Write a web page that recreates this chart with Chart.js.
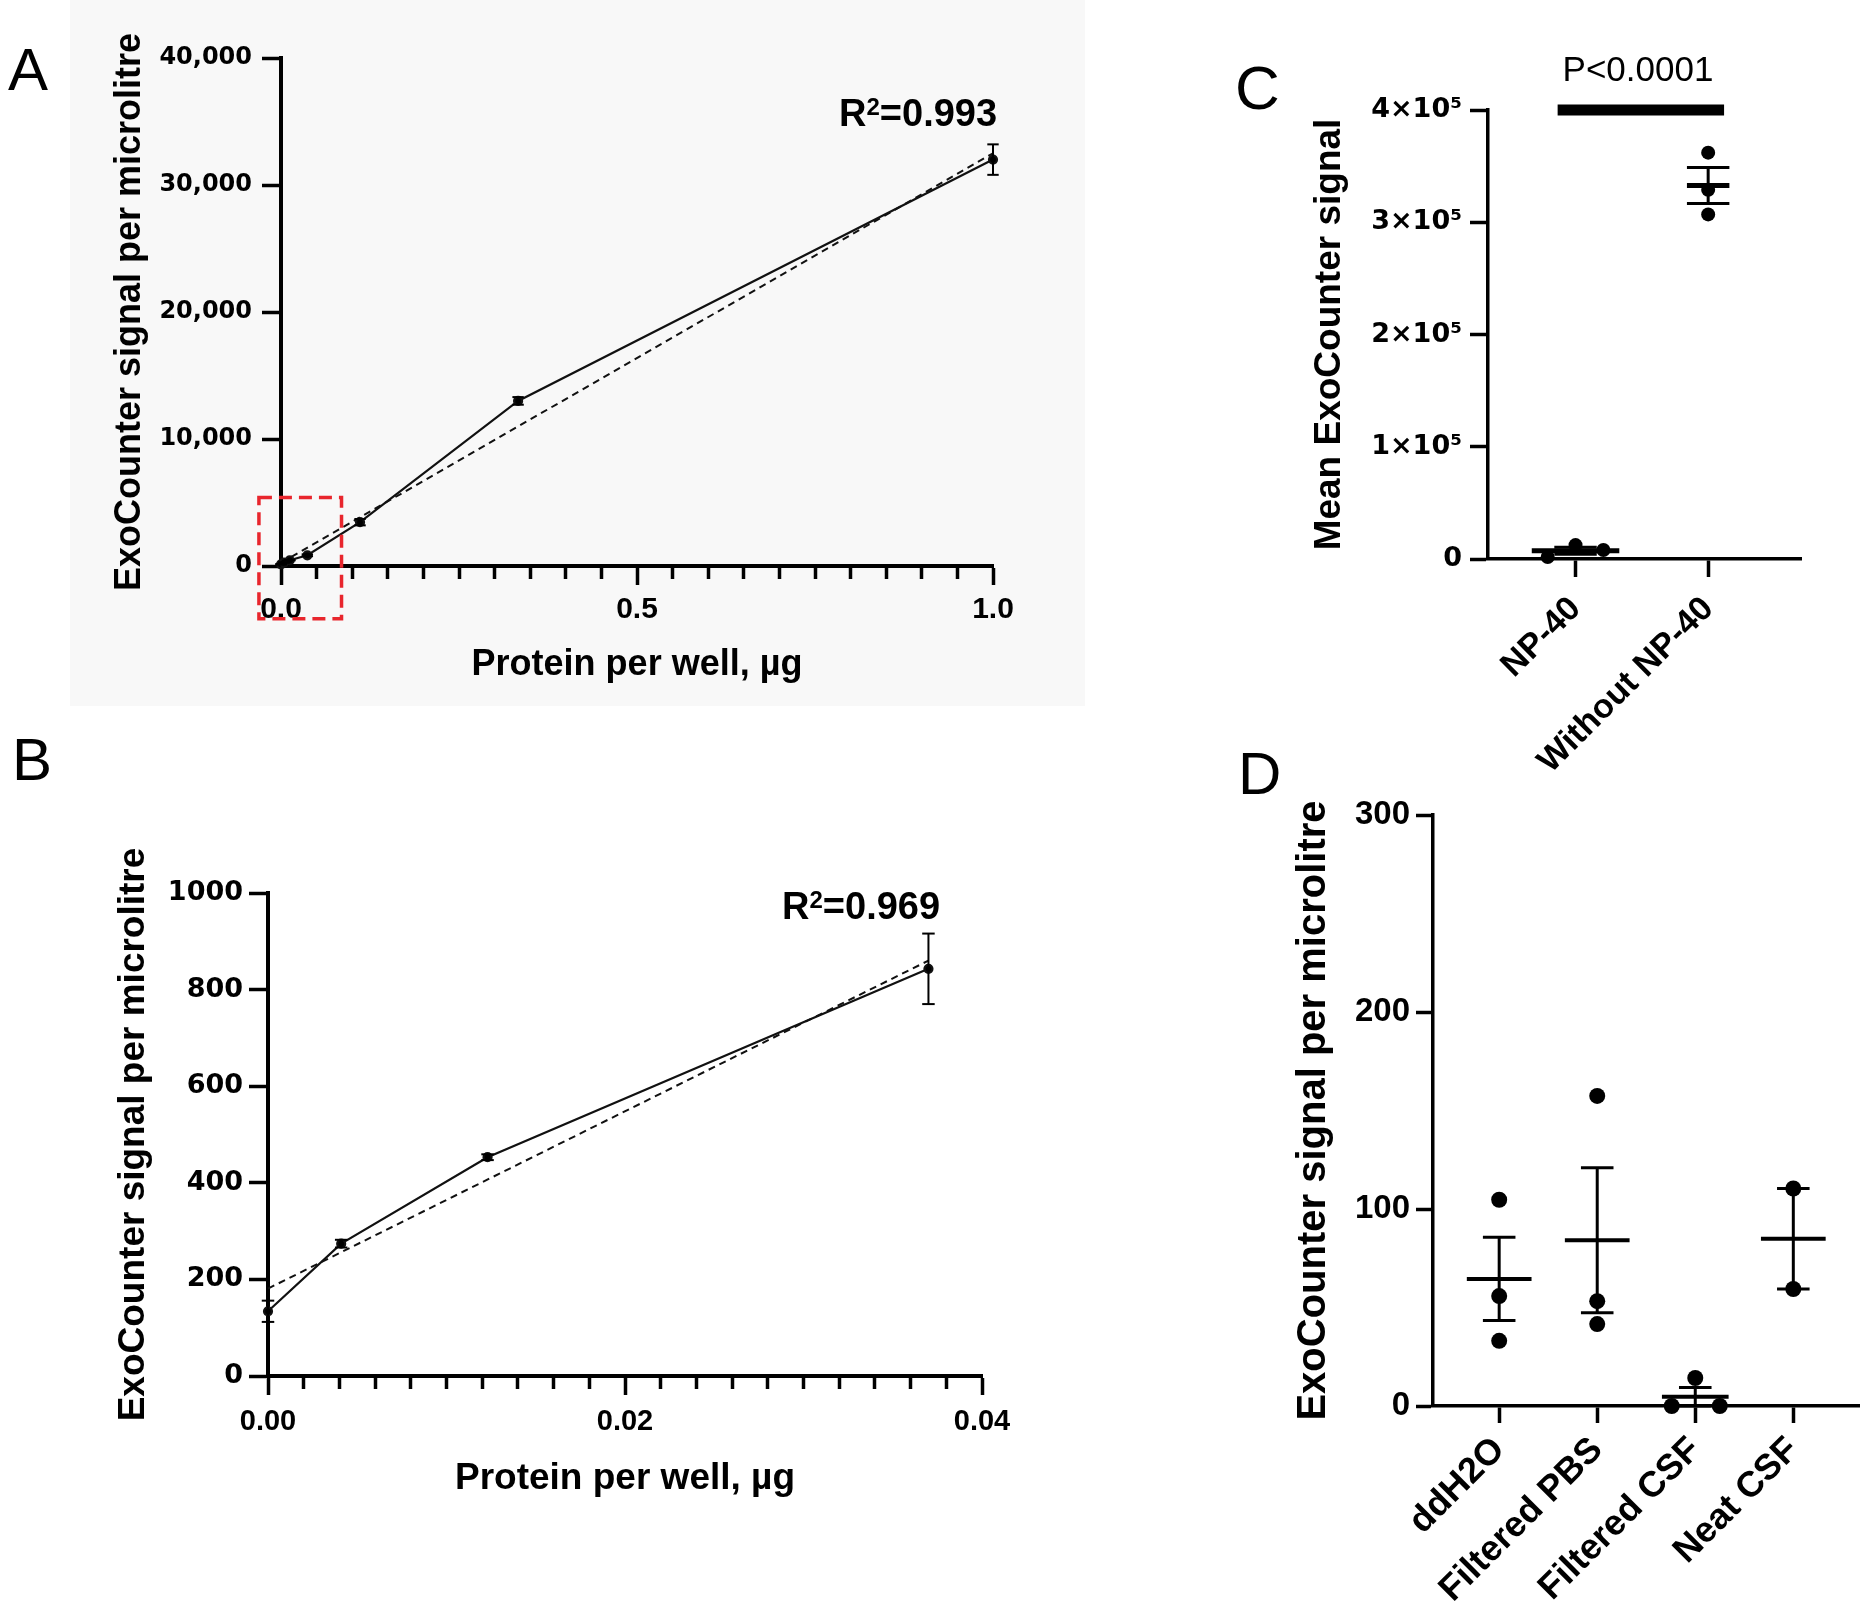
<!DOCTYPE html>
<html>
<head>
<meta charset="utf-8">
<script src="https://cdn.jsdelivr.net/npm/chart.js@4.4.1/dist/chart.umd.min.js"></script>
<style>
  body { margin: 0; width: 1867px; height: 1606px; position: relative; overflow: hidden; background: #fff;
         font-family: "Liberation Sans", Arial, sans-serif; color: #000; }
  .cv { position: absolute; }
  .letter { position: absolute; line-height: 1; font-weight: normal; }
  .r2 { position: absolute; line-height: 1; font-weight: bold; font-size: 38px; white-space: nowrap; }
  .r2 sup { font-size: 24px; vertical-align: baseline; position: relative; top: -11px; }
  .pval { position: absolute; line-height: 1; font-size: 35px; text-align: center; width: 300px; }
</style>
</head>
<body>
<div style="position:absolute;left:70px;top:0;width:1015px;height:706px;background:#f8f8f8"></div>
<canvas id="chartA" class="cv" style="left:0;top:0" width="1060" height="720"></canvas>
<canvas id="chartB" class="cv" style="left:0;top:740px" width="1060" height="866"></canvas>
<canvas id="chartC" class="cv" style="left:1200px;top:0" width="667" height="775"></canvas>
<canvas id="chartD" class="cv" style="left:1250px;top:775px" width="640" height="831"></canvas>

<div class="letter" style="left:8px;top:40px;font-size:60px">A</div>
<div class="letter" style="left:12px;top:730px;font-size:60px">B</div>
<div class="letter" style="left:1235px;top:57px;font-size:62px">C</div>
<div class="letter" style="left:1238px;top:744px;font-size:60px">D</div>
<div class="r2" style="left:839px;top:94px">R<sup>2</sup>=0.993</div>
<div class="r2" style="left:782px;top:887px">R<sup>2</sup>=0.969</div>
<div class="pval" style="left:1488px;top:51px">P&lt;0.0001</div>

<script>
// ---- panel A : full dilution series ----
const aDose = [0, 0.0041, 0.0123, 0.037, 0.111, 0.333, 1.0];
const aSignal = [134, 274, 453, 843, 3450, 13000, 32000];
const aSem = [22, 8, 10, 73, 250, 300, 1200];
const aFitX = [0, 1.0];
const aFitY = [250, 32500];
const aXTicks = ['0.0', '0.5', '1.0'];
const aYTicks = ['0', '10,000', '20,000', '30,000', '40,000'];

// ---- panel B : low range ----
const bDose = [0, 0.0041, 0.0123, 0.037];
const bSignal = [134, 274, 453, 843];
const bSem = [22, 8, 6, 73];
const bFitX = [0, 0.037];
const bFitY = [181, 860];
const bXTicks = ['0.00', '0.02', '0.04'];
const bYTicks = ['0', '200', '400', '600', '800', '1000'];

// ---- panel C : NP-40 ----
const cGroups = ['NP-40', 'Without NP-40'];
const cPoints = [[1800, 12400, 8000], [362000, 329000, 307000]];
const cMean = [7400, 332700];
const cSem = [3100, 16000];
const cYTicks = ['0', '1\u00d710\u2075', '2\u00d710\u2075', '3\u00d710\u2075', '4\u00d710\u2075'];

// ---- panel D : controls ----
const dGroups = ['ddH2O', 'Filtered PBS', 'Filtered CSF', 'Neat CSF'];
const dPoints = [[104.7, 55.8, 33.1], [157.4, 53.2, 41.6], [0, 14.2, 0], [110.4, 59.4]];
const dMean = [64.5, 84.1, 4.7, 84.9];
const dSem = [21.1, 36.8, 4.7, 25.5];
const dYTicks = ['0', '100', '200', '300'];

const wideBold = size => ({ family: 'DejaVu Sans', weight: 'bold', size: size });
const bold = size => ({ family: 'Liberation Sans', weight: 'bold', size: size });

// error bars, mean/SEM lines and the zoom box
const extras = {
  id: 'extras',
  afterDatasetsDraw(chart, args, o) {
    const ctx = chart.ctx, sx = chart.scales.x, sy = chart.scales.y;
    const seg = (x0, y0, x1, y1, w) => {
      ctx.lineWidth = w;
      ctx.beginPath();
      ctx.moveTo(sx.getPixelForValue(x0), sy.getPixelForValue(y0));
      ctx.lineTo(sx.getPixelForValue(x1), sy.getPixelForValue(y1));
      ctx.stroke();
    };
    ctx.save();
    ctx.strokeStyle = '#000';
    ctx.lineCap = 'butt';
    if (o.err) {
      const e = o.err;
      e.x.forEach((xv, i) => {
        const lo = e.y[i] - e.d[i], hi = e.y[i] + e.d[i];
        seg(xv, lo, xv, hi, e.w);
        seg(xv - e.cap, hi, xv + e.cap, hi, e.w);
        seg(xv - e.cap, lo, xv + e.cap, lo, e.w);
      });
    }
    if (o.summary) {
      const s = o.summary;
      s.mean.forEach((m, i) => {
        const lo = m - s.sem[i], hi = m + s.sem[i];
        seg(i, lo, i, hi, s.w);
        seg(i - s.cap, hi, i + s.cap, hi, s.w);
        seg(i - s.cap, lo, i + s.cap, lo, s.w);
        seg(i - s.half[i], m, i + s.half[i], m, s.meanW);
      });
    }
    if (o.box) {
      const b = o.box;
      ctx.strokeStyle = '#e8262d';
      ctx.lineWidth = 3.5;
      ctx.setLineDash([13, 7]);
      const x0 = sx.getPixelForValue(b.x0), x1 = sx.getPixelForValue(b.x1);
      const y0 = sy.getPixelForValue(b.y0), y1 = sy.getPixelForValue(b.y1);
      ctx.strokeRect(x0, y1, x1 - x0, y0 - y1);
    }
    ctx.restore();
  }
};

function pairs(xs, ys) { return xs.map((x, i) => ({ x: x, y: ys[i] })); }

function labelFor(list, v) {
  const hit = list.find(t => Math.abs(parseFloat(t) - v) < 1e-9);
  return hit === undefined ? '' : hit;
}

function doseChart(id, cfg) {
  const major = v => labelFor(cfg.xTicks, v) !== '';
  return new Chart(document.getElementById(id), {
    type: 'scatter',
    data: {
      datasets: [
        { data: pairs(cfg.dose, cfg.signal), showLine: true, borderColor: '#111', borderWidth: 2.2,
          backgroundColor: '#000', pointRadius: 4, pointHoverRadius: 4, clip: false },
        { data: pairs(cfg.fitX, cfg.fitY), showLine: true, borderColor: '#111', borderWidth: 2,
          borderDash: [7, 5], pointRadius: 0, clip: false }
      ]
    },
    options: {
      responsive: false, animation: false,
      layout: { padding: cfg.pad },
      plugins: { legend: { display: false }, tooltip: { enabled: false },
        extras: { err: { x: cfg.dose, y: cfg.signal, d: cfg.sem, cap: cfg.cap, w: 2 }, box: cfg.box } },
      scales: {
        x: {
          type: 'linear', min: cfg.xMin, max: cfg.xMax,
          afterBuildTicks: s => {
            const n = cfg.minorCount, out = [];
            for (let i = 0; i <= n; i++) out.push({ value: cfg.xMin + (cfg.xMax - cfg.xMin) * i / n });
            s.ticks = out;
          },
          ticks: { autoSkip: false, maxRotation: 0, color: '#000', font: bold(cfg.xTickSize), padding: cfg.xPad,
                   callback: v => labelFor(cfg.xTicks, v) },
          grid: { drawOnChartArea: false, drawTicks: true, tickLength: cfg.tickLen, tickWidth: 3.5, tickColor: '#000',
                  tickBorderDash: c => (c.tick && major(c.tick.value)) ? [] : [cfg.minorLen, 80] },
          border: { display: true, color: '#000', width: 4 },
          title: { display: true, text: 'Protein per well, \u00b5g', color: '#000', font: bold(cfg.titleSize),
                   padding: { top: 0, bottom: cfg.xTitlePad } },
          afterFit: s => { s.height = cfg.xHeight; }
        },
        y: {
          type: 'linear', min: 0, max: cfg.yMax,
          ticks: { stepSize: cfg.yStep, color: '#000', font: wideBold(cfg.yTickSize), padding: cfg.yPad,
                   callback: v => cfg.yTicks[Math.round(v / cfg.yStep)] },
          grid: { drawOnChartArea: false, drawTicks: true, tickLength: cfg.tickLen, tickWidth: 3.5, tickColor: '#000' },
          border: { display: true, color: '#000', width: 4 },
          title: { display: true, text: 'ExoCounter signal per microlitre', color: '#000', font: bold(cfg.titleSize),
                   padding: { top: cfg.yTitlePad, bottom: 0 } },
          afterFit: s => { s.width = cfg.yWidth; }
        }
      }
    },
    plugins: [extras]
  });
}

function groupChart(id, cfg) {
  const pts = [];
  cfg.points.forEach((grp, gi) => grp.forEach((v, k) => pts.push({ x: gi + cfg.spread[gi][k], y: v })));
  const sets = [{ data: pts, backgroundColor: '#000', borderWidth: 0, pointRadius: cfg.dot, pointHoverRadius: cfg.dot, clip: false }];
  if (cfg.sig) {
    sets.push({ data: pairs(cfg.sig.x, cfg.sig.y), showLine: true, borderColor: '#000', borderWidth: 11,
                borderCapStyle: 'butt', pointRadius: 0, clip: false });
  }
  return new Chart(document.getElementById(id), {
    type: 'scatter',
    data: { datasets: sets },
    options: {
      responsive: false, animation: false,
      layout: { padding: cfg.pad },
      plugins: { legend: { display: false }, tooltip: { enabled: false },
        extras: { summary: { mean: cfg.mean, sem: cfg.sem, half: cfg.half, cap: cfg.cap, w: 3, meanW: cfg.meanW } } },
      scales: {
        x: {
          type: 'linear', min: cfg.xMin, max: cfg.xMax,
          afterBuildTicks: s => { s.ticks = cfg.groups.map((g, i) => ({ value: i })); },
          ticks: { autoSkip: false, minRotation: 45, maxRotation: 45, color: '#000', font: bold(cfg.labelSize),
                   padding: cfg.xPad, callback: v => cfg.groups[v] },
          grid: { drawOnChartArea: false, drawTicks: true, tickLength: cfg.tickLen, tickWidth: 3.5, tickColor: '#000' },
          border: { display: true, color: '#000', width: 3.5 },
          afterFit: s => { s.height = cfg.xHeight; }
        },
        y: {
          type: 'linear', min: 0, max: cfg.yMax,
          ticks: { stepSize: cfg.yStep, color: '#000', font: cfg.tickFont, padding: cfg.yPad,
                   callback: v => cfg.yTicks[Math.round(v / cfg.yStep)] },
          grid: { drawOnChartArea: false, drawTicks: true, tickLength: cfg.tickLen, tickWidth: 3.5, tickColor: '#000' },
          border: { display: true, color: '#000', width: 3.5 },
          title: { display: true, text: cfg.yTitle, color: '#000', font: bold(cfg.titleSize),
                   padding: { top: cfg.yTitlePad, bottom: 0 } },
          afterFit: s => { s.width = cfg.yWidth; }
        }
      }
    },
    plugins: [extras]
  });
}

// A: canvas 0,0 1060x720 ; plot area x 281..993, y 58..566
doseChart('chartA', {
  dose: aDose, signal: aSignal, sem: aSem, fitX: aFitX, fitY: aFitY, xTicks: aXTicks, yTicks: aYTicks,
  xMin: 0, xMax: 1, minorCount: 20, yMax: 40000, yStep: 10000, cap: 0.008,
  box: { x0: -0.031, x1: 0.085, y0: -4150, y1: 5400 },
  pad: { left: 0, top: 58, right: 67, bottom: 0 },
  yWidth: 281, xHeight: 154, xTickSize: 30, yTickSize: 24, titleSize: 36, tickLen: 19, minorLen: 11,
  xPad: 7, yPad: 10, xTitlePad: 33, yTitlePad: 108
});

// B: canvas 0,740 1060x866 ; plot area x 268..982, y 893..1376
doseChart('chartB', {
  dose: bDose, signal: bSignal, sem: bSem, fitX: bFitX, fitY: bFitY, xTicks: bXTicks, yTicks: bYTicks,
  xMin: 0, xMax: 0.04, minorCount: 20, yMax: 1000, yStep: 200, cap: 0.00035,
  box: null,
  pad: { left: 0, top: 153, right: 78, bottom: 0 },
  yWidth: 268, xHeight: 230, xTickSize: 29, yTickSize: 27, titleSize: 37, tickLen: 19, minorLen: 11,
  xPad: 10, yPad: 6, xTitlePad: 105, yTitlePad: 112
});

// C: canvas 1200,0 667x775 ; plot area x 1488..1801, y 110..559
groupChart('chartC', {
  groups: cGroups, points: cPoints, mean: cMean, sem: cSem, yTicks: cYTicks,
  spread: [[-0.21, 0, 0.21], [0, 0, 0]], half: [0.33, 0.16], cap: 0.16, meanW: 5, dot: 7,
  sig: { x: [-0.135, 1.12], y: [400000, 400000] },
  xMin: -0.66, xMax: 1.70, yMax: 400000, yStep: 100000,
  pad: { left: 0, top: 110, right: 66, bottom: 0 },
  yWidth: 288, xHeight: 216, tickFont: wideBold(27), labelSize: 34, titleSize: 37, tickLen: 18,
  xPad: 12, yPad: 8, yTitlePad: 108, yTitle: 'Mean ExoCounter signal'
});

// D: canvas 1250,775 640x831 ; plot area x 1433..1859, y 815..1406
groupChart('chartD', {
  groups: dGroups, points: dPoints, mean: dMean, sem: dSem, yTicks: dYTicks,
  spread: [[0, 0, 0], [0, 0, 0], [-0.24, 0, 0.25], [0, 0]], half: [0.33, 0.33, 0.34, 0.33], cap: 0.166, meanW: 4, dot: 8,
  sig: null,
  xMin: -0.675, xMax: 3.67, yMax: 300, yStep: 100,
  pad: { left: 0, top: 40, right: 31, bottom: 0 },
  yWidth: 183, xHeight: 200, tickFont: bold(33), labelSize: 36, titleSize: 40, tickLen: 17,
  xPad: 6, yPad: 6, yTitlePad: 40, yTitle: 'ExoCounter signal per microlitre'
});
</script>
</body>
</html>
